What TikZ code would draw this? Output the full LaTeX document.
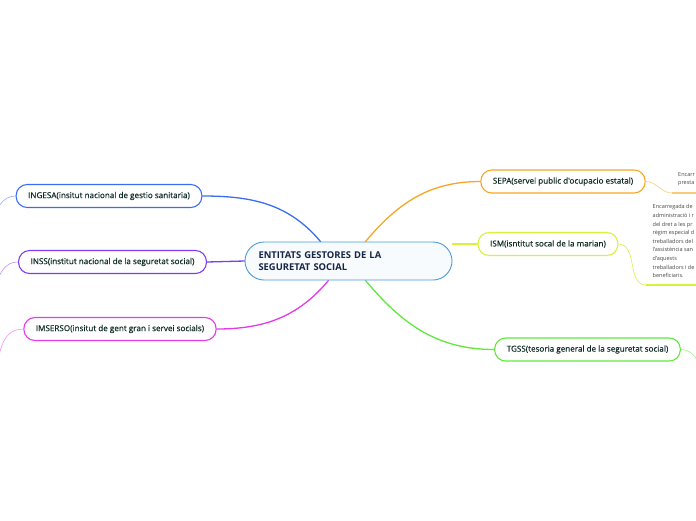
\documentclass[tikz,border=0pt]{standalone}
\usepackage{fontspec}
\setmainfont{Open Sans}
\newfontfamily\topicfont{Open Sans}[FakeBold=0.45]
\usetikzlibrary{calc}
\definecolor{mmblue}{RGB}{59,108,245}
\definecolor{mmpurple}{RGB}{124,60,240}
\definecolor{mmmagenta}{RGB}{228,58,232}
\definecolor{mmorange}{RGB}{247,166,35}
\definecolor{mmlime}{RGB}{214,242,60}
\definecolor{mmgreen}{RGB}{96,232,60}
\definecolor{mmcore}{RGB}{74,154,216}
\definecolor{mmtext}{RGB}{16,44,38}
\definecolor{mmnavy}{RGB}{22,36,70}
\definecolor{mmgray}{RGB}{70,70,70}
\tikzset{
  corebox/.style ={draw=mmcore,line width=0.9pt,fill=white!96!mmcore,rounded corners=19pt,
                   minimum width=207pt,minimum height=38pt,text width=180pt,inner xsep=13.5pt,
                   align=left,font=\fontsize{9.4}{12}\selectfont\bfseries,text=mmnavy},
  topicbox/.style={draw,line width=1.1pt,fill=white,rounded corners=11pt,minimum height=23pt,
                   inner xsep=12pt,font=\topicfont\fontsize{8.1}{10}\selectfont,text=mmtext},
  mainedge/.style={line width=1.3pt,line cap=round},
  subedge/.style ={line width=0.6pt},
  noteline/.style={line width=1.4pt},
  notetext/.style={inner sep=0pt,anchor=north west,align=left,text=mmgray,
                   font=\fontsize{5.5}{8.6}\selectfont},
}
\pgfdeclarelayer{mmedges}
\pgfsetlayers{mmedges,main}

\begin{document}
\begin{tikzpicture}[x=1pt,y=1pt]
  \useasboundingbox (0,0) rectangle (696,-520);
  \clip (0,0) rectangle (696,-520);
  % central topic
  \node[corebox] (ent) at (348.5,-261) {ENTITATS GESTORES DE LA\\SEGURETAT SOCIAL};
  % left branches
  \node[topicbox,draw=mmblue]    (ingesa)  at (109,-196)   {INGESA(insitut nacional de gestio sanitaria)};
  \node[topicbox,draw=mmpurple]  (inss)    at (112.5,-262) {INSS(institut nacional de la seguretat social)};
  \node[topicbox,draw=mmmagenta] (imserso) at (120,-329)   {IMSERSO(insitut de gent gran i servei socials)};
  % right branches
  \node[topicbox,draw=mmorange]  (sepa)    at (563,-181.5) {SEPA(servei public d'ocupacio estatal)};
  \node[topicbox,draw=mmlime]    (ism)     at (548,-244)   {ISM(isntitut socal de la marian)};
  \node[topicbox,draw=mmgreen]   (tgss)    at (587.5,-349.5) {TGSS(tesoria general de la seguretat social)};
  % notes
  \node[notetext] (sepanote) at (678,-172) {Encarr\\presta};
  \node[notetext] (ismnote)  at (652.5,-204.5) {Encarregada de\\administració i r\\del dret a les pr\\règim especial d\\treballadors del\\l'assistència san\\d'aquests\\treballadors i de\\beneficiaris.};
  \coordinate (sepaul)  at (672,-193);
  \coordinate (ismul)   at (646,-285);
  \coordinate (ingesaend)  at (-8,-222);
  \coordinate (inssend)    at (-8,-300);
  \coordinate (imsersoend) at (-6,-390);
  \coordinate (tgssend)    at (704,-385);
  \begin{pgfonlayer}{mmedges}
    \draw[mainedge,mmblue]    ([xshift=-28pt]ent.north) to[out=130,in=0] (ingesa.east);
    \draw[mainedge,mmpurple]  (ent.west) -- (inss.east);
    \draw[mainedge,mmmagenta] ([xshift=-20pt]ent.south) to[out=-130,in=0] (imserso.east);
    \draw[mainedge,mmorange]  ([xshift=17pt]ent.north) to[out=50,in=180] (sepa.west);
    \draw[mainedge,mmlime]    ([yshift=17pt]ent.east) -- (ism.west);
    \draw[mainedge,mmgreen]   ([xshift=17pt]ent.south) to[out=-50,in=180] (tgss.west);
    % sub connectors
    \draw[subedge,mmblue!55]    (ingesa.west) to[out=180,in=70] (ingesaend);
    \draw[subedge,mmpurple!55]  (inss.west) to[out=180,in=75] (inssend);
    \draw[subedge,mmmagenta!55] (imserso.west) to[out=180,in=80] (imsersoend);
    \draw[subedge,mmorange!60]  (sepa.east) to[out=0,in=180] (sepaul);
    \draw[noteline,mmorange!60] (sepaul) -- (696,-193);
    \draw[subedge,mmlime]       (ism.east) to[out=0,in=180] (ismul);
    \draw[noteline,mmlime]      (ismul) -- (696,-285);
    \draw[subedge,mmgreen!60]   (tgss.east) to[out=0,in=100] (tgssend);
  \end{pgfonlayer}
\end{tikzpicture}
\end{document}
